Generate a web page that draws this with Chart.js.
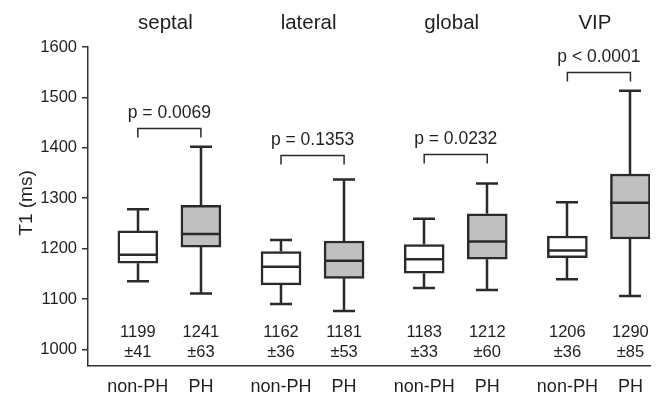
<!DOCTYPE html>
<html>
<head>
<meta charset="utf-8">
<script src="https://cdn.jsdelivr.net/npm/chart.js@4"></script>
<style>
  html, body { margin: 0; padding: 0; background: #fff; }
  #wrap { width: 659px; height: 396px; }
</style>
</head>
<body>
<div id="wrap"><canvas id="c" width="659" height="396"></canvas></div>
<script>
// regiões e grupos
const regioes = ['septal', 'lateral', 'global', 'VIP'];
const grupos = ['non-PH', 'PH'];
const pValores = ['p = 0.0069', 'p = 0.1353', 'p = 0.0232', 'p < 0.0001'];
const pAltura = [1440, 1385, 1387, 1551];

// box plot: [nonPH, PH] por região
const whiskerMin = [[1135, 1111], [1090, 1076], [1122, 1118], [1139, 1106]];
const q1 = [[1171, 1203], [1128, 1141], [1151, 1179], [1182, 1219]];
const mediana = [[1188, 1229], [1164, 1176], [1179, 1214], [1196, 1291]];
const q3 = [[1235, 1286], [1194, 1215], [1208, 1269], [1225, 1348]];
const whiskerMax = [[1278, 1402], [1217, 1337], [1259, 1329], [1292, 1513]];

const medias = [[1199, 1241], [1162, 1181], [1183, 1212], [1206, 1290]];
const desvios = [[41, 63], [36, 53], [33, 60], [36, 85]];

const yTicks = [1000, 1100, 1200, 1300, 1400, 1500, 1600];

const FONTE = '"Liberation Sans", Arial, sans-serif';
const COR = '#1f1f1f';
const ESPACO_GRUPO = 2.27;

function posX(g, i) { return g * ESPACO_GRUPO + i; }

const boxes = [];
const cores = [];
regioes.forEach((r, g) => {
    grupos.forEach((nome, i) => {
        boxes.push({ x: posX(g, i), y: [q1[g][i], q3[g][i]] });
        cores.push(i === 0 ? '#ffffff' : '#c0c0c0');
    });
});

const boxPlotPlugin = {
    id: 'boxPlot',
    afterDatasetsDraw(chart) {
        const ctx = chart.ctx;
        const xs = chart.scales.x, ys = chart.scales.y;
        const cap = 11;
        const meia = 20;
        ctx.save();
        ctx.strokeStyle = '#2a2a2a';
        ctx.lineWidth = 2.5;
        ctx.lineCap = 'butt';
        regioes.forEach((r, g) => {
            grupos.forEach((nome, i) => {
                const cx = Math.round(xs.getPixelForValue(posX(g, i)));
                const yMin = ys.getPixelForValue(whiskerMin[g][i]);
                const yMax = ys.getPixelForValue(whiskerMax[g][i]);
                const yQ1 = ys.getPixelForValue(q1[g][i]);
                const yQ3 = ys.getPixelForValue(q3[g][i]);
                const yMed = ys.getPixelForValue(mediana[g][i]);
                ctx.beginPath();
                ctx.moveTo(cx, yQ3); ctx.lineTo(cx, yMax);
                ctx.moveTo(cx - cap, yMax); ctx.lineTo(cx + cap, yMax);
                ctx.moveTo(cx, yQ1); ctx.lineTo(cx, yMin);
                ctx.moveTo(cx - cap, yMin); ctx.lineTo(cx + cap, yMin);
                ctx.moveTo(cx - meia, yMed); ctx.lineTo(cx + meia, yMed);
                ctx.stroke();
            });
        });
        ctx.restore();
    }
};

const textosPlugin = {
    id: 'textos',
    afterDraw(chart) {
        const ctx = chart.ctx;
        const xs = chart.scales.x, ys = chart.scales.y;
        const area = chart.chartArea;
        ctx.save();
        ctx.fillStyle = COR;
        ctx.textAlign = 'center';
        ctx.textBaseline = 'middle';
        regioes.forEach((r, g) => {
            const x0 = xs.getPixelForValue(posX(g, 0));
            const x1 = xs.getPixelForValue(posX(g, 1));
            // título
            ctx.font = '20.5px ' + FONTE;
            ctx.fillText(r, (x0 + x1) / 2 - 4, 23);
            // colchete do p
            const yTop = Math.round(ys.getPixelForValue(pAltura[g])) + 0.5;
            ctx.strokeStyle = '#2a2a2a';
            ctx.lineWidth = 1.5;
            ctx.beginPath();
            ctx.moveTo(x0, yTop + 9); ctx.lineTo(x0, yTop);
            ctx.lineTo(x1, yTop); ctx.lineTo(x1, yTop + 9);
            ctx.stroke();
            ctx.font = '17.5px ' + FONTE;
            ctx.fillText(pValores[g], (x0 + x1) / 2, yTop - 15);
            grupos.forEach((nome, i) => {
                const cx = xs.getPixelForValue(posX(g, i));
                ctx.font = '16.5px ' + FONTE;
                ctx.fillText(String(medias[g][i]), cx, 332);
                ctx.fillText('\u00b1' + desvios[g][i], cx, 352);
                ctx.font = '18px ' + FONTE;
                ctx.fillText(nome, cx, area.bottom + 21);
            });
        });
        // título do eixo y
        ctx.translate(27, 203);
        ctx.rotate(-Math.PI / 2);
        ctx.font = '19px ' + FONTE;
        ctx.fillText('T1 (ms)', 0, 0);
        ctx.restore();
    }
};

new Chart(document.getElementById('c'), {
    type: 'bar',
    data: {
        datasets: [{
            data: boxes,
            backgroundColor: cores,
            borderColor: '#2a2a2a',
            borderWidth: 2.5,
            borderSkipped: false,
            barThickness: 40
        }]
    },
    options: {
        responsive: false,
        animation: false,
        events: [],
        layout: { padding: { left: 0, top: 47, right: 9, bottom: 30 } },
        plugins: { legend: { display: false }, tooltip: { enabled: false } },
        scales: {
            x: {
                type: 'linear',
                offset: false,
                min: -0.79,
                max: 8.12,
                grid: { display: false, drawTicks: false },
                border: { display: true, color: '#333', width: 1.5 },
                ticks: { display: false },
                afterFit(scale) { scale.height = 0; }
            },
            y: {
                min: 967,
                max: 1600,
                grid: { display: true, drawOnChartArea: false, drawTicks: true, tickLength: 6, color: '#333', lineWidth: 1.5 },
                border: { display: true, color: '#333', width: 1.5 },
                afterBuildTicks(scale) {
                    scale.ticks = yTicks.map(v => ({ value: v }));
                },
                ticks: {
                    color: COR,
                    padding: 5,
                    font: { family: FONTE, size: 16.5 },
                    callback: v => String(v)
                },
                afterFit(scale) { scale.width = 88; }
            }
        }
    },
    plugins: [boxPlotPlugin, textosPlugin]
});
</script>
</body>
</html>
